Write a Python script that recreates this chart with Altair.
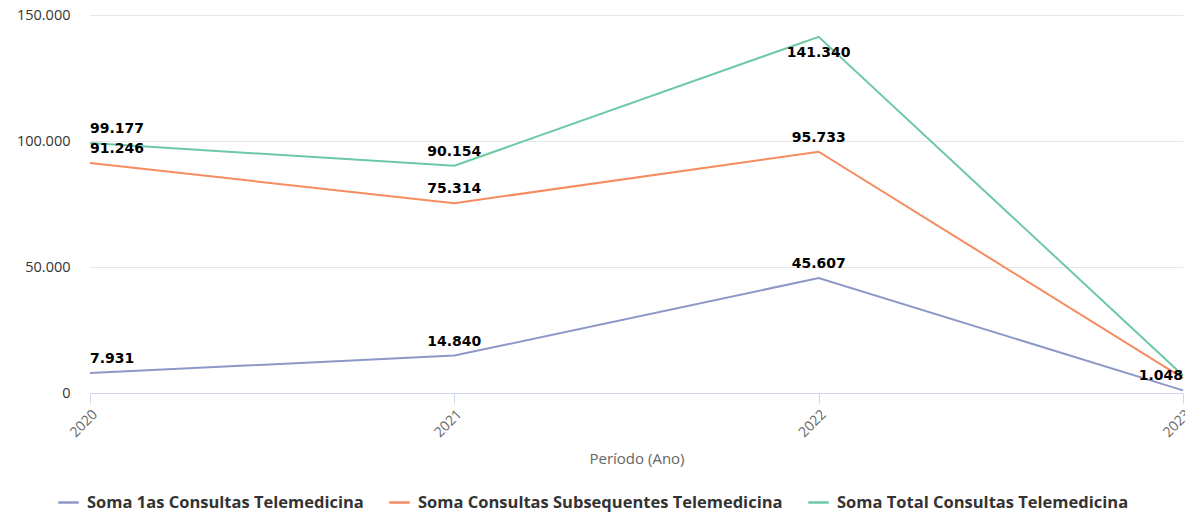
import altair as alt
import pandas as pd

years = ["2020", "2021", "2022", "2023"]
series_names = [
    "Soma 1as Consultas Telemedicina",
    "Soma Consultas Subsequentes Telemedicina",
    "Soma Total Consultas Telemedicina",
]
primeiras = [7931, 14840, 45607, 1048]
subsequentes = [91246, 75314, 95733, 5900]
total = [99177, 90154, 141340, 6948]
colors = ["#8d98c9", "#f58b5e", "#6cc9a3"]
# which labels are shown (2023 labels of the upper lines are hidden by overlap)
show_label = [
    [True, True, True, True],
    [True, True, True, False],
    [True, True, True, False],
]

rows = []
for s, vals, shows in zip(series_names, [primeiras, subsequentes, total], show_label):
    for i, (y, v, sh) in enumerate(zip(years, vals, shows)):
        rows.append({"ano": y, "serie": s, "valor": v, "show": sh, "idx": i})
df = pd.DataFrame(rows)

base = alt.Chart(df).encode(
    x=alt.X(
        "ano:O",
        title="Período (Ano)",
        scale=alt.Scale(type="point", padding=0),
        axis=alt.Axis(
            labelAngle=-45,
            labelColor="#666666",
            labelFontSize=14,
            labelFont="Open Sans",
            titleFont="Open Sans",
            titleFontSize=15,
            titleFontWeight="normal",
            titleColor="#666666",
            titleY=58,
            domainColor="#ccd6eb",
            tickColor="#ccd6eb",
            tickSize=10,
            labelPadding=4,
            grid=False,
        ),
    ),
    y=alt.Y(
        "valor:Q",
        title=None,
        scale=alt.Scale(domain=[0, 150000]),
        axis=alt.Axis(
            values=[0, 50000, 100000, 150000],
            labelExpr="replace(format(datum.value, ','), ',', '.')",
            labelColor="#333333",
            labelFontSize=14.5,
            labelFont="Open Sans",
            labelPadding=20,
            domain=False,
            ticks=False,
            gridColor="#e6e6e6",
        ),
    ),
)

lines = base.mark_line(strokeWidth=2).encode(
    color=alt.Color(
        "serie:N",
        sort=series_names,
        scale=alt.Scale(domain=series_names, range=colors),
        legend=alt.Legend(
            title=None,
            orient="none",
            direction="horizontal",
            legendX=-33,
            legendY=476,
            symbolType="stroke",
            symbolStrokeWidth=2.5,
            symbolSize=420,
            labelOffset=7,
            labelFont="Open Sans",
            labelFontSize=16.5,
            labelFontWeight="bold",
            labelColor="#333333",
            columnPadding=20,
            labelLimit=500,
        ),
    )
)

label_calc = "replace(format(datum.valor, ','), ',', '.')"
txt = dict(fontSize=14, fontWeight="bold", font="DejaVu Sans", color="#000000")

lbl_base = base.transform_filter("datum.show").transform_calculate(lbl=label_calc)

# first year: kept inside the plot (left aligned)
labels_first = (
    lbl_base.transform_filter("datum.idx == 0")
    .mark_text(dy=-14, align="left", **txt)
    .encode(text="lbl:N")
)
# middle years, above the point (below when it would leave the plot top)
labels_mid = (
    lbl_base.transform_filter("datum.idx > 0 && datum.idx < 3 && datum.valor < 135000")
    .mark_text(dy=-14, **txt)
    .encode(text="lbl:N")
)
labels_mid_low = (
    lbl_base.transform_filter("datum.idx > 0 && datum.idx < 3 && datum.valor >= 135000")
    .mark_text(dy=16, **txt)
    .encode(text="lbl:N")
)
# last year: kept inside the plot (right aligned)
labels_last = (
    lbl_base.transform_filter("datum.idx == 3")
    .mark_text(dy=-14, align="right", **txt)
    .encode(text="lbl:N")
)

chart = (
    alt.layer(lines, labels_first, labels_mid, labels_mid_low, labels_last)
    .properties(
        width=1093,
        height=378,
        autosize=alt.AutoSizeParams(type="none"),
        padding={"left": 90, "top": 15, "right": 2, "bottom": 122},
    )
    .configure_view(stroke=None)
)

chart.save("out.html", embed_options={"renderer": "svg", "actions": False})
